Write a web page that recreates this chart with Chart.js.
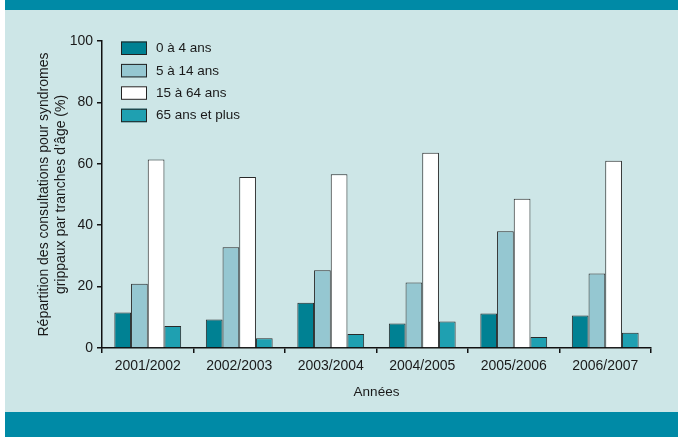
<!DOCTYPE html>
<html>
<head>
<meta charset="utf-8">
<script src="https://cdn.jsdelivr.net/npm/chart.js@4/dist/chart.umd.min.js"></script>
<style>
  html, body { margin: 0; padding: 0; background: #ffffff; }
  #wrap { width: 678px; height: 437px; position: relative; }
</style>
</head>
<body>
<div id="wrap"><canvas id="c" width="678" height="437"></canvas></div>
<script>
// Saisons grippales (axe des abscisses)
const saisons = ['2001/2002', '2002/2003', '2003/2004', '2004/2005', '2005/2006', '2006/2007'];

// Répartition des consultations (%) par tranche d'âge
const ages0a4 = [11.6, 9.3, 14.7, 8.0, 11.2, 10.6];
const ages5a14 = [20.9, 32.8, 25.3, 21.3, 38.0, 24.3];
const ages15a64 = [61.4, 55.7, 56.6, 63.6, 48.6, 61.0];
const ages65plus = [7.2, 3.2, 4.6, 8.6, 3.6, 5.0];

// Graduations de l'axe vertical
const ticksY = [0, 20, 40, 60, 80, 100];

const FONT = "'Liberation Sans', Arial, sans-serif";
const BG = '#cde6e7';
const BAND = '#008aa6';

// Fond clair et bandeaux foncés haut et bas
const fondPlugin = {
  id: 'fond',
  beforeDraw(chart) {
    const ctx = chart.ctx;
    ctx.save();
    ctx.fillStyle = '#ffffff';
    ctx.fillRect(0, 0, chart.width, chart.height);
    ctx.fillStyle = BG;
    ctx.fillRect(5, 0, chart.width - 5, chart.height);
    ctx.fillStyle = BAND;
    ctx.fillRect(5, 0, chart.width - 5, 10);
    ctx.fillRect(5, 412, chart.width - 5, chart.height - 412);
    ctx.restore();
  }
};

// Légende dessinée dans la zone du graphique, en haut à gauche
const legendePlugin = {
  id: 'legende',
  afterDraw(chart) {
    const ctx = chart.ctx;
    ctx.save();
    ctx.font = '13.5px ' + FONT;
    ctx.textBaseline = 'middle';
    ctx.textAlign = 'left';
    chart.data.datasets.forEach((ds, i) => {
      const y = 41.5 + i * 22.4;
      ctx.fillStyle = ds.backgroundColor;
      ctx.fillRect(121, y, 26, 13.5);
      ctx.strokeStyle = '#222';
      ctx.lineWidth = 1;
      ctx.strokeRect(121.5, y + 0.5, 25, 12.5);
      ctx.fillStyle = '#1a1a1a';
      ctx.fillText(ds.label, 156, y + 7);
    });
    ctx.restore();
  }
};

new Chart(document.getElementById('c'), {
  type: 'bar',
  data: {
    labels: saisons,
    datasets: [
      { label: '0 à 4 ans', data: ages0a4, backgroundColor: '#008193' },
      { label: '5 à 14 ans', data: ages5a14, backgroundColor: '#95c7d1' },
      { label: '15 à 64 ans', data: ages15a64, backgroundColor: '#ffffff' },
      { label: '65 ans et plus', data: ages65plus, backgroundColor: '#1fa0b1' }
    ]
  },
  options: {
    responsive: false,
    animation: false,
    devicePixelRatio: 1,
    layout: { padding: { left: 0, right: 27, top: 41, bottom: 25 } },
    datasets: {
      bar: {
        borderColor: '#2a2a2a',
        borderWidth: 1,
        categoryPercentage: 0.73,
        barPercentage: 1
      }
    },
    plugins: {
      legend: { display: false },
      tooltip: { enabled: false }
    },
    scales: {
      x: {
        offset: true,
        border: { display: true, color: '#111', width: 1.5 },
        grid: { display: true, drawOnChartArea: false, drawTicks: true, tickLength: 5, color: '#111', lineWidth: 1.5, offset: true },
        ticks: { color: '#1a1a1a', font: { family: FONT, size: 14 }, padding: 5, maxRotation: 0 },
        title: { display: true, text: 'Années', color: '#1a1a1a', font: { family: FONT, size: 13.5 }, padding: { top: 0, bottom: 12 } },
        afterFit(scale) { scale.height = 64; }
      },
      y: {
        min: 0,
        max: 100,
        border: { display: true, color: '#111', width: 1.5 },
        grid: { display: true, drawOnChartArea: false, drawTicks: true, tickLength: 5, color: '#111', lineWidth: 1.5 },
        afterBuildTicks(scale) { scale.ticks = ticksY.map(v => ({ value: v })); },
        ticks: { color: '#1a1a1a', font: { family: FONT, size: 14 }, padding: 4 },
        title: {
          display: true,
          text: ['Répartition des consultations pour syndromes', 'grippaux par tranches d\u2019âge (%)'],
          color: '#1a1a1a',
          font: { family: FONT, size: 14, lineHeight: 1.21 },
          padding: { top: 35.5, bottom: 0 }
        },
        afterFit(scale) { scale.width = 102; }
      }
    }
  },
  plugins: [fondPlugin, legendePlugin]
});
</script>
</body>
</html>
